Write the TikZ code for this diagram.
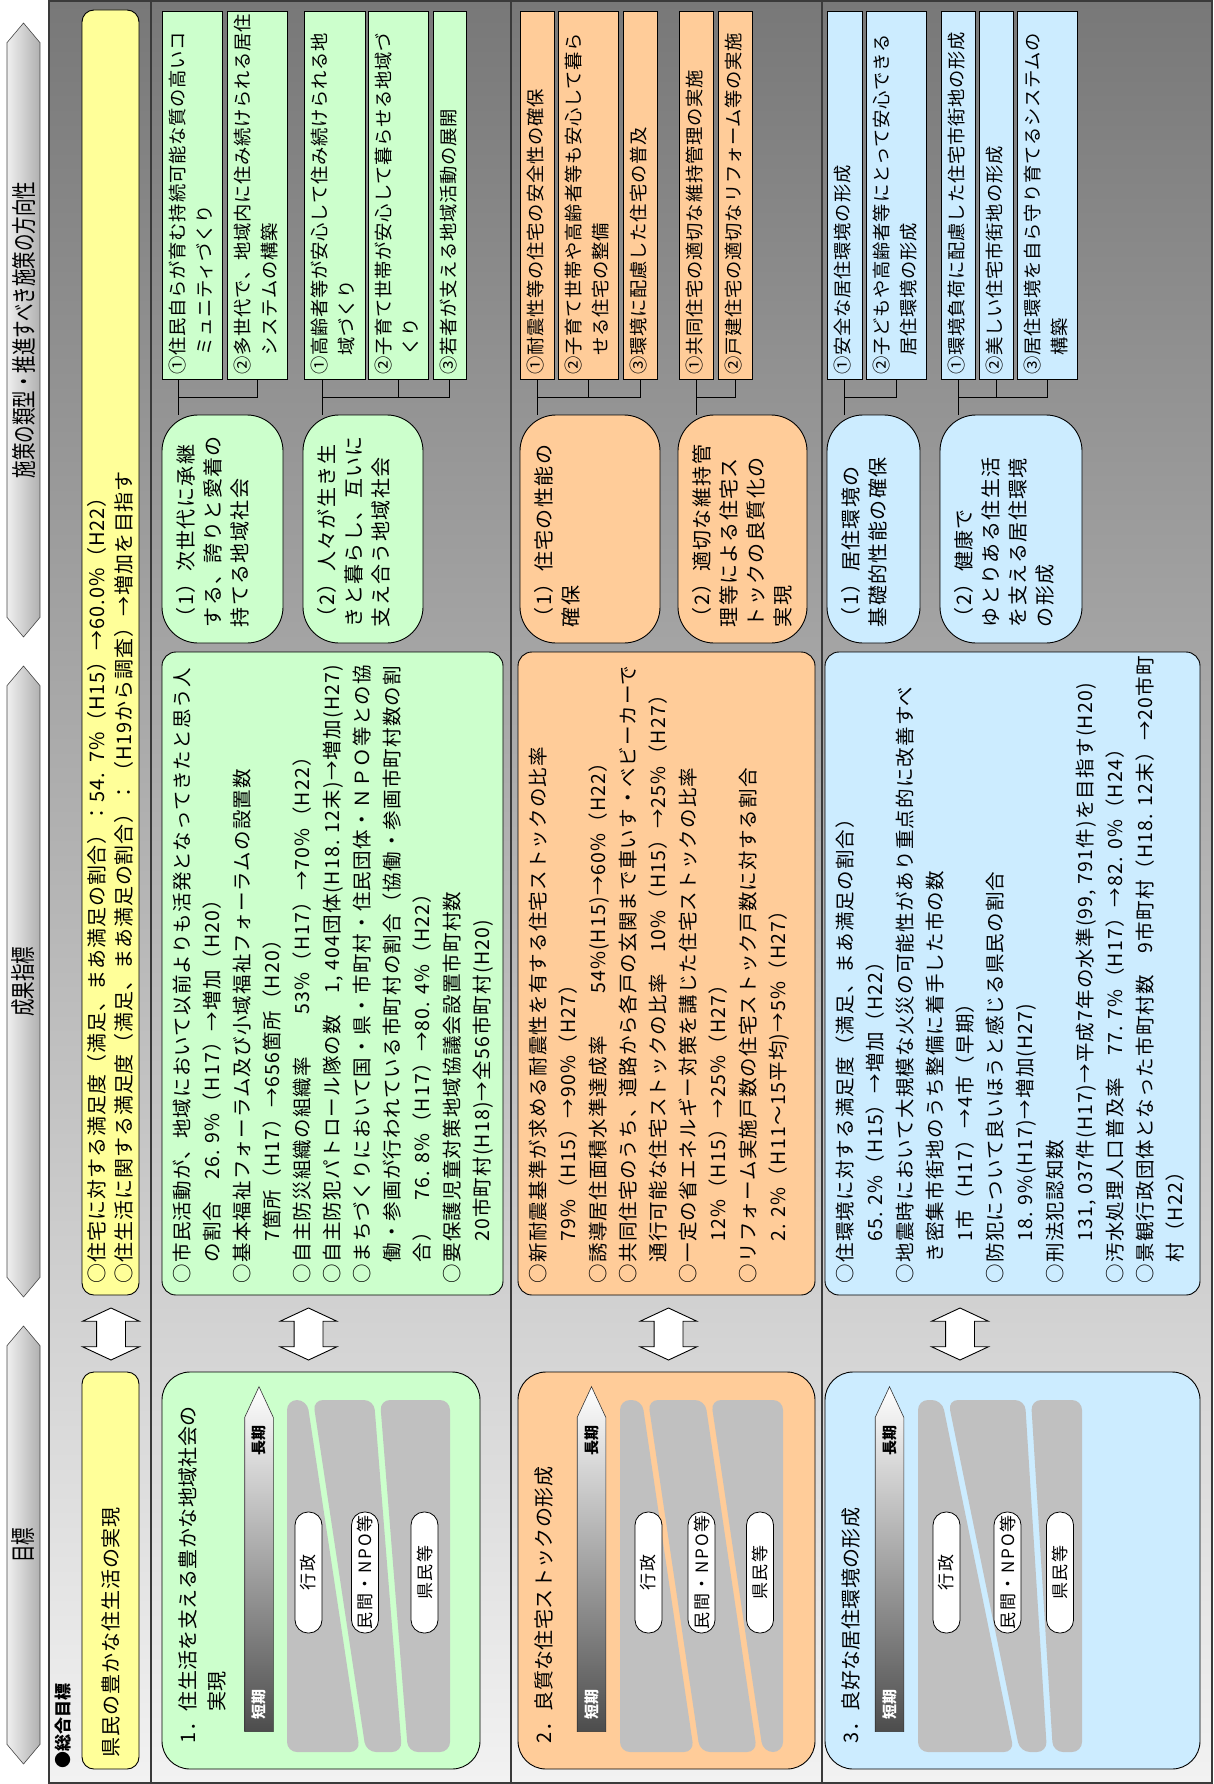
\documentclass[tikz,border=0pt]{standalone}
\usepackage{fontspec}
\setmainfont{Noto Sans CJK JP}
\usepackage{graphicx}
\usetikzlibrary{shapes.arrows, positioning, calc}

\definecolor{goalyellow}{HTML}{FFFF99}
\definecolor{livgreen}{HTML}{CCFFCC}
\definecolor{stockorange}{HTML}{FFCC99}
\definecolor{envblue}{HTML}{CCECFF}
\definecolor{bandgray}{HTML}{C0C0C0}
\definecolor{bgdark}{HTML}{787878}
\definecolor{bgmid}{HTML}{CDCDCD}
\definecolor{bglight}{HTML}{F2F2F2}
\definecolor{linegray}{HTML}{3A3A3A}

\newcommand{\hdrfont}{\fontsize{25}{25}\selectfont}
\newcommand{\labfont}{\fontsize{17}{17}\selectfont\bfseries}
\newcommand{\yelfont}{\fontsize{20}{27}\selectfont\addfontfeature{LetterSpace=4.5}}
\newcommand{\titlefont}{\fontsize{20}{29}\selectfont\addfontfeature{LetterSpace=2}}
\newcommand{\indfont}{\fontsize{19.5}{30}\selectfont\addfontfeature{LetterSpace=6}}
\newcommand{\ovalfont}{\fontsize{20}{27}\selectfont\addfontfeature{LetterSpace=7}}
\newcommand{\itemfont}{\fontsize{18.3}{27}\selectfont\addfontfeature{LetterSpace=4}}
\newcommand{\pillfont}{\fontsize{17}{17}\selectfont\addfontfeature{LetterSpace=10}}
\newcommand{\termfont}{\fontsize{15}{15}\selectfont\bfseries}

\begin{document}
\begin{tikzpicture}[x=1pt, y=1pt,
  hdrarrow/.style={double arrow, double arrow head extend=0pt,
                   double arrow tip angle=80, rotate=90, draw=gray!55!black,
                   line width=0.6pt, left color=gray!12, right color=gray!62,
                   minimum width=33pt, inner sep=0pt, font=\hdrfont},
  box/.style={draw=black, line width=0.9pt, rotate=90, inner sep=0pt},
  goalbox/.style={box, rounded corners=28pt, minimum width=397pt},
  indbox/.style={box, rounded corners=14pt, minimum width=643pt},
  ovalbox/.style={box, rounded corners=36pt, minimum width=228pt},
  itembox/.style={box, minimum width=368pt},
  yelbox/.style={box, rounded corners=12pt, fill=goalyellow,
                 minimum height=57pt, align=left, font=\yelfont, inner xsep=12pt},
  dblarrow/.style={double arrow, draw=black, line width=0.9pt, fill=white,
                   rotate=90, minimum height=52pt, minimum width=56pt,
                   inner xsep=0pt, inner ysep=14pt,
                   double arrow head extend=14pt, double arrow tip angle=130},
  termarrow/.style={single arrow, single arrow head extend=0pt,
                    single arrow tip angle=50, draw=gray!40!black, line width=0.6pt,
                    rotate=90, minimum height=345pt, minimum width=28pt,
                    inner xsep=0pt, inner ysep=14pt,
                    top color=white, middle color=black!22, bottom color=black!70},
  pill/.style={draw=black, line width=0.8pt, fill=white, rotate=90,
               rounded corners=13pt, minimum width=121pt, minimum height=27pt,
               inner sep=0pt, font=\pillfont},
  txt/.style={rotate=90, anchor=north west, align=left},
  titletxt/.style={txt, inner xsep=26pt, inner ysep=17pt, font=\titlefont},
  indtxt/.style={txt, inner xsep=12pt, inner ysep=11pt, font=\indfont},
  ovaltxt/.style={txt, inner xsep=16pt, inner ysep=15pt, font=\ovalfont},
  itemtxt/.style={txt, inner xsep=5pt, inner ysep=7pt, font=\itemfont},
  termtxt/.style={rotate=90, inner sep=0pt, font=\termfont},
  conn/.style={draw=black, line width=0.9pt},
]
  \useasboundingbox (0,0) rectangle (1214,-1784);

  % frame and rows
  \shade[top color=bgdark, middle color=bgmid, bottom color=bglight]
    (49,-1) rectangle (1212,-1783);
  \draw[linegray, line width=1.5pt] (49,-1) rectangle (1212,-1783);
  \draw[linegray, line width=1.5pt] (151,-1) -- (151,-1783)
    (511,-1) -- (511,-1783) (822,-1) -- (822,-1783);

  % column headers
  \node[hdrarrow, minimum height=614pt] (hdrPolicy) at (23.5,-330)
    {\scalebox{0.7}[1]{施策の類型・推進すべき施策の方向性}};
  \node[hdrarrow, minimum height=631pt] (hdrIndex) at (23.5,-981.5)
    {\scalebox{0.7}[1]{成果指標}};
  \node[hdrarrow, minimum height=438pt] (hdrGoal) at (23.5,-1545)
    {\scalebox{0.7}[1]{目標}};

  % overall goal
  \node[txt, font=\labfont, inner sep=0pt] (lblTotal) at (55,-1769) {●総合目標};
  \node[yelbox, minimum width=397pt, text width=373pt] (totGoal) at (110.5,-1570.5)
    {県民の豊かな住生活の実現};
  \node[dblarrow] (totArr) at (111,-1334) {};
  \node[yelbox, minimum width=1285pt, text width=1261pt] (totInd) at (110.5,-652.5)
    {○住宅に対する満足度（満足、まあ満足の割合）：54. 7\%（H15）→60.0\%（H22）\\
     ○住生活に関する満足度（満足、まあ満足の割合）：（H19から調査）→増加を目指す};

  % 1. living
  \node[goalbox, fill=livgreen, minimum height=318pt] (livGoal) at (321,-1570.5) {};
  \node[titletxt] at (livGoal.north west)
    {1．住生活を支える豊かな地域社会の\\\phantom{1．}実現};
  \node[termarrow] (livTerm) at (259,-1574.5) {};
  \node[termtxt, text=white] at ([yshift=28pt]livTerm.west) {短期};
  \node[termtxt] at ([yshift=-55pt]livTerm.east) {長期};
  \fill[bandgray, rounded corners=10pt] (287,-1400) -- (307,-1400) -- (360,-1752) -- (287,-1752) -- cycle;
  \fill[bandgray, rounded corners=10pt] (313,-1400) -- (374,-1400) -- (402,-1752) -- (366,-1752) -- cycle;
  \fill[bandgray, rounded corners=10pt] (380,-1400) -- (450,-1400) -- (450,-1752) -- (408,-1752) -- cycle;
  \node[pill] (livAdm) at (308.5,-1572.5) {行政};
  \node[pill] (livNpo) at (365,-1572.5) {民間・NPO等};
  \node[pill] (livCit) at (424.5,-1572.5) {県民等};
  \node[dblarrow] (livArr) at (308.5,-1334) {};

  \node[indbox, fill=livgreen, minimum height=341pt] (livInd) at (332.5,-973.5) {};
  \node[indtxt] at (livInd.north west)
    {○市民活動が、地域において以前よりも活発となってきたと思う人\\
     　の割合　26. 9\%（H17）→増加（H20）\\
     ○基本福祉フォーラム及び小域福祉フォーラムの設置数\\
     　　7箇所（H17）→656箇所（H20）\\
     ○自主防災組織の組織率　　53\%（H17）→70\%（H22）\\
     ○自主防犯パトロール隊の数　1, 404団体(H18. 12末)→増加(H27)\\
     ○まちづくりにおいて国・県・市町村・住民団体・ＮＰＯ等との協\\
     　働・参画が行われている市町村の割合（協働・参画市町村数の割\\
     　合）　76. 8\%（H17）→80. 4\%（H22）\\
     ○要保護児童対策地域協議会設置市町村数\\
     　　20市町村(H18)→全56市町村(H20)};

  \node[ovalbox, fill=livgreen, minimum height=121pt] (livP1) at (222.5,-529) {};
  \node[ovaltxt] at (livP1.north west) {（1）次世代に承継\\する、誇りと愛着の\\持てる地域社会};
  \node[ovalbox, fill=livgreen, minimum height=120pt] (livP2) at (363,-529) {};
  \node[ovaltxt] at (livP2.north west) {（2）人々が生き生\\きと暮らし、互いに\\支え合う地域社会};

  \node[itembox, fill=livgreen, minimum height=60pt] (liv1a) at (192,-195) {};
  \node[itemtxt] at (liv1a.north west) {①住民自らが育む持続可能な質の高いコ\\　ミュニティづくり};
  \node[itembox, fill=livgreen, minimum height=60pt] (liv1b) at (257,-195) {};
  \node[itemtxt] at (liv1b.north west) {②多世代で、地域内に住み続けられる居住\\　システムの構築};
  \node[itembox, fill=livgreen, minimum height=61pt] (liv2a) at (334.5,-195) {};
  \node[itemtxt] at (liv2a.north west) {①高齢者等が安心して住み続けられる地\\　域づくり};
  \node[itembox, fill=livgreen, minimum height=60pt] (liv2b) at (398,-195) {};
  \node[itemtxt] at (liv2b.north west) {②子育て世帯が安心して暮らせる地域づ\\　くり};
  \node[itembox, fill=livgreen, minimum height=33pt] (liv2c) at (449.5,-195) {};
  \node[itemtxt] at (liv2c.north west) {③若者が支える地域活動の展開};

  % 2. housing stock
  \node[goalbox, fill=stockorange, minimum height=297pt] (stkGoal) at (666.5,-1570.5) {};
  \node[titletxt] at (stkGoal.north west) {2．良質な住宅ストックの形成};
  \node[termarrow] (stkTerm) at (591.5,-1574.5) {};
  \node[termtxt, text=white] at ([yshift=28pt]stkTerm.west) {短期};
  \node[termtxt] at ([yshift=-55pt]stkTerm.east) {長期};
  \fill[bandgray, rounded corners=10pt] (620,-1400) -- (642,-1400) -- (694,-1752) -- (620,-1752) -- cycle;
  \fill[bandgray, rounded corners=10pt] (648,-1400) -- (705,-1400) -- (757,-1752) -- (700,-1752) -- cycle;
  \fill[bandgray, rounded corners=10pt] (711,-1400) -- (783,-1400) -- (783,-1752) -- (763,-1752) -- cycle;
  \node[pill] (stkAdm) at (648.5,-1572.5) {行政};
  \node[pill] (stkNpo) at (701.5,-1572.5) {民間・NPO等};
  \node[pill] (stkCit) at (760,-1572.5) {県民等};
  \node[dblarrow] (stkArr) at (668.5,-1334) {};

  \node[indbox, fill=stockorange, minimum height=297pt] (stkInd) at (666.5,-973.5) {};
  \node[indtxt] at (stkInd.north west)
    {○新耐震基準が求める耐震性を有する住宅ストックの比率\\
     　　79\%（H15）→90\%（H27）\\
     ○誘導居住面積水準達成率　　54\%(H15)→60\%（H22）\\
     ○共同住宅のうち、道路から各戸の玄関まで車いす・ベビーカーで\\
     　通行可能な住宅ストックの比率　10\%（H15）→25\%（H27）\\
     ○一定の省エネルギー対策を講じた住宅ストックの比率\\
     　　12\%（H15）→25\%（H27）\\
     ○リフォーム実施戸数の住宅ストック戸数に対する割合\\
     　　2. 2\%（H11～15平均)→5\%（H27）};

  \node[ovalbox, fill=stockorange, minimum height=140pt] (stkP1) at (590,-529) {};
  \node[ovaltxt] at (stkP1.north west) {（1）住宅の性能の\\確保};
  \node[ovalbox, fill=stockorange, minimum height=129pt] (stkP2) at (742.5,-529) {};
  \node[ovaltxt] at (stkP2.north west) {（2）適切な維持管\\理等による住宅ス\\トックの良質化の\\実現};

  \node[itembox, fill=stockorange, minimum height=34pt] (stk1a) at (537,-195) {};
  \node[itemtxt] at (stk1a.north west) {①耐震性等の住宅の安全性の確保};
  \node[itembox, fill=stockorange, minimum height=60pt] (stk1b) at (588,-195) {};
  \node[itemtxt] at (stk1b.north west) {②子育て世帯や高齢者等も安心して暮ら\\　せる住宅の整備};
  \node[itembox, fill=stockorange, minimum height=34pt] (stk1c) at (640,-195) {};
  \node[itemtxt] at (stk1c.north west) {③環境に配慮した住宅の普及};
  \node[itembox, fill=stockorange, minimum height=34pt] (stk2a) at (696,-195) {};
  \node[itemtxt] at (stk2a.north west) {①共同住宅の適切な維持管理の実施};
  \node[itembox, fill=stockorange, minimum height=34pt] (stk2b) at (735,-195) {};
  \node[itemtxt] at (stk2b.north west) {②戸建住宅の適切なリフォーム等の実施};

  % 3. living environment
  \node[goalbox, fill=envblue, minimum height=375pt] (envGoal) at (1012.5,-1570.5) {};
  \node[titletxt] at (envGoal.north west) {3．良好な居住環境の形成};
  \node[termarrow] (envTerm) at (889.5,-1574.5) {};
  \node[termtxt, text=white] at ([yshift=28pt]envTerm.west) {短期};
  \node[termtxt] at ([yshift=-55pt]envTerm.east) {長期};
  \fill[bandgray, rounded corners=10pt] (918,-1400) -- (942,-1400) -- (1014,-1752) -- (918,-1752) -- cycle;
  \fill[bandgray, rounded corners=10pt] (948,-1400) -- (1025,-1400) -- (1047,-1752) -- (1020,-1752) -- cycle;
  \fill[bandgray, rounded corners=10pt] (1031,-1400) -- (1082,-1400) -- (1082,-1752) -- (1053,-1752) -- cycle;
  \node[pill] (envAdm) at (946.5,-1572.5) {行政};
  \node[pill] (envNpo) at (1007.5,-1572.5) {民間・NPO等};
  \node[pill] (envCit) at (1060,-1572.5) {県民等};
  \node[dblarrow] (envArr) at (960,-1334) {};

  \node[indbox, fill=envblue, minimum height=375pt] (envInd) at (1012.5,-973.5) {};
  \node[indtxt] at (envInd.north west)
    {○住環境に対する満足度（満足、まあ満足の割合）\\
     　　65. 2\%（H15）→増加（H22）\\
     ○地震時において大規模な火災の可能性があり重点的に改善すべ\\
     　き密集市街地のうち整備に着手した市の数\\
     　　1市（H17）→4市（早期）\\
     ○防犯について良いほうと感じる県民の割合\\
     　　18. 9\%(H17)→増加(H27)\\
     ○刑法犯認知数\\
     　　131, 037件(H17)→平成7年の水準(99, 791件)を目指す(H20)\\
     ○汚水処理人口普及率　77. 7\%（H17）→82. 0\%（H24）\\
     ○景観行政団体となった市町村数　9市町村（H18. 12末）→20市町\\
     　村（H22）};

  \node[ovalbox, fill=envblue, minimum height=93pt] (envP1) at (873.5,-529) {};
  \node[ovaltxt] at (envP1.north west) {（1）居住環境の\\基礎的性能の確保};
  \node[ovalbox, fill=envblue, minimum height=142pt] (envP2) at (1011,-529) {};
  \node[ovaltxt] at (envP2.north west) {（2）健康で\\ゆとりある住生活\\を支える居住環境\\の形成};

  \node[itembox, fill=envblue, minimum height=35pt] (env1a) at (844.5,-195) {};
  \node[itemtxt] at (env1a.north west) {①安全な居住環境の形成};
  \node[itembox, fill=envblue, minimum height=60pt] (env1b) at (896,-195) {};
  \node[itemtxt] at (env1b.north west) {②子どもや高齢者等にとって安心できる\\　居住環境の形成};
  \node[itembox, fill=envblue, minimum height=34pt] (env2a) at (958,-195) {};
  \node[itemtxt] at (env2a.north west) {①環境負荷に配慮した住宅市街地の形成};
  \node[itembox, fill=envblue, minimum height=34pt] (env2b) at (996,-195) {};
  \node[itemtxt] at (env2b.north west) {②美しい住宅市街地の形成};
  \node[itembox, fill=envblue, minimum height=60pt] (env2c) at (1047,-195) {};
  \node[itemtxt] at (env2c.north west) {③居住環境を自ら守り育てるシステムの\\　構築};

  % brackets from policies to measures
  \coordinate (brk) at (0,-397);
  \coordinate (livJ1) at ([xshift=-14pt]liv1a.west);
  \draw[conn] (livJ1) -- (livJ1 |- livP1.east);
  \draw[conn] (liv1b.west) |- (livJ1 |- brk);
  \coordinate (livJ2) at ([xshift=-12pt]liv2a.west);
  \draw[conn] (livJ2) -- (livJ2 |- livP2.east);
  \draw[conn] (liv2b.west) |- (livJ2 |- brk);
  \draw[conn] (liv2c.west) |- (livJ2 |- brk);

  \draw[conn] (stk1a.west) -- (stk1a.west |- stkP1.east);
  \draw[conn] (stk1b.west) |- (stk1a.west |- brk);
  \draw[conn] (stk1c.west) |- (stk1a.west |- brk);
  \draw[conn] (stk2a.west) -- (stk2a.west |- stkP2.east);
  \draw[conn] (stk2b.west) |- (stk2a.west |- brk);

  \draw[conn] (env1a.west) -- (env1a.west |- envP1.east);
  \draw[conn] (env1b.west) |- (env1a.west |- brk);
  \draw[conn] (env2a.west) -- (env2a.west |- envP2.east);
  \draw[conn] (env2b.west) |- (env2a.west |- brk);
  \draw[conn] (env2c.west) |- (env2a.west |- brk);
\end{tikzpicture}
\end{document}
